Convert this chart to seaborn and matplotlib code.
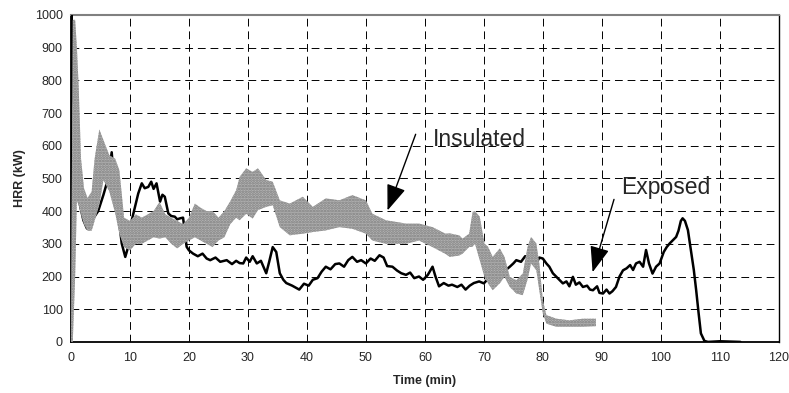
import numpy as np
import pandas as pd
import seaborn as sns
import matplotlib.pyplot as plt

# Exposed test (black line)
exposed_time = [0.0, 0.1, 0.3, 0.8, 1.5, 2.1, 2.7, 3.5, 4.6, 5.5, 6.3, 6.9, 7.2, 8.0, 8.6, 9.2, 9.7,
                10.3, 11.4, 12.0, 12.5, 13.1, 13.6, 14.0, 14.5, 15.1, 15.5, 15.9, 16.5, 17.0, 17.6,
                18.0, 18.5, 19.0, 19.6, 20.0, 20.7, 21.5, 22.3, 23.0, 23.6, 24.5, 25.3, 26.4, 27.3,
                28.0, 28.6, 29.2, 29.7, 30.3, 30.8, 31.5, 32.2, 33.1, 33.6, 34.2, 34.8, 35.4, 36.0,
                36.5, 37.5, 38.2, 38.7, 39.5, 40.3, 41.0, 41.8, 42.5, 43.2, 44.0, 44.8, 45.5, 46.3,
                47.0, 47.7, 48.5, 49.2, 50.0, 50.8, 51.5, 52.3, 53.0, 53.6, 54.5, 55.3, 56.0, 56.8,
                57.5, 58.2, 59.0, 59.7, 60.5, 61.3, 61.8, 62.4, 63.2, 64.0, 64.6, 65.5, 66.2, 66.9,
                67.6, 68.3, 69.2, 70.0, 70.8, 71.5, 72.2, 72.7, 73.4, 74.4, 75.0, 75.5, 76.3, 77.0,
                77.7, 78.3, 78.9, 79.4, 80.0, 80.6, 81.1, 81.7, 82.3, 82.8, 83.4, 84.0, 84.5, 85.1,
                85.6, 86.2, 86.8, 87.5, 88.0, 88.5, 89.2, 89.6, 90.2, 90.8, 91.3, 91.8, 92.4, 93.0,
                93.6, 94.2, 94.8, 95.3, 95.8, 96.4, 97.0, 97.5, 98.0, 98.6, 99.2, 99.8, 100.5, 101.0,
                101.5, 102.0, 102.6, 103.0, 103.4, 103.7, 104.1, 104.6, 105.1, 105.6, 106.0, 106.4,
                106.8, 107.4, 108.0, 110.0, 112.0, 113.5]
exposed_hrr = [0, 1000, 830, 600, 420, 372, 347, 370, 400, 450, 500, 580, 510, 393, 301, 260, 291,
               372, 454, 485, 470, 474, 490, 468, 485, 429, 450, 444, 393, 385, 383,
               375, 378, 380, 291, 280, 270, 262, 270, 255, 250, 258, 245, 250, 238,
               248, 241, 240, 258, 245, 262, 240, 248, 210, 245, 290, 275, 210, 190,
               180, 172, 165, 160, 178, 172, 190, 195, 215, 230, 222, 238, 240, 230,
               250, 260, 245, 250, 240, 255, 248, 265, 258, 232, 230, 218, 210, 205,
               212, 195, 200, 190, 205, 230, 200, 170, 180, 172, 175, 168, 175, 160,
               172, 180, 185, 179, 195, 184, 200, 199, 215, 230, 240, 250, 245, 262,
               260, 245, 240, 258, 255, 240, 230, 210, 199, 190, 179, 185, 170, 199,
               175, 182, 168, 172, 160, 158, 170, 150, 148, 160, 148, 155, 168, 200,
               219, 225, 235, 220, 240, 245, 230, 281, 240, 209, 230, 240, 275, 290,
               301, 310, 321, 340, 370, 378, 370, 342, 281, 220, 158, 90,
               26, 3, 0, 2, 1, 0]

# Insulated test (grey noisy band: lower / upper envelope)
insulated_time = [0.0, 0.3, 0.7, 1.0, 1.3, 1.7, 2.2, 2.8, 3.5, 4.0, 4.8, 5.5, 6.5, 7.5, 8.2, 9.0,
                  10, 11, 12, 13, 14, 15, 16, 17, 18, 19, 20, 21, 22, 23, 24, 25, 26, 27, 28,
                  28.6, 29.7, 30.8, 31.7, 33.1, 34.2, 35.4, 37.1, 39.3, 41.0, 43.2, 45.5, 47.7,
                  50.0, 51.1, 53.4, 56.8, 59.0, 61.3, 63.5, 64.2, 65.8, 66.4, 67.5, 68.1, 68.5,
                  69.3, 70.1, 70.7, 71.5, 72.7, 73.5, 74.4, 75.5, 76.6, 77.4, 78.0, 78.9, 79.4,
                  80.0, 80.6, 82.3, 84.5, 86.8, 89.0]
insulated_low = [0, 0, 200, 430, 420, 390, 360, 340, 340, 370, 420, 495, 460, 393, 331, 290,
                 280, 300, 300, 310, 320, 316, 320, 300, 286, 300, 310, 320, 310, 300, 290, 310, 320, 360, 380,
                 372, 392, 377, 403, 413, 418, 351, 326, 331, 336, 341, 351, 346,
                 331, 310, 300, 300, 310, 290, 269, 260, 264, 270, 290, 291, 300,
                 250, 199, 179, 158, 179, 199, 168, 148, 143, 190, 240, 219, 158,
                 87, 56, 46, 46, 46, 48]
insulated_high = [50, 985, 985, 900, 780, 560, 470, 440, 460, 560, 650, 617, 571, 560, 525, 380,
                  370, 390, 380, 390, 400, 428, 390, 380, 370, 360, 380, 423, 410, 400, 400, 380, 400, 430, 464,
                  505, 531, 520, 531, 495, 490, 433, 423, 444, 413, 439, 433, 449,
                  433, 392, 372, 362, 362, 351, 331, 332, 326, 316, 331, 398, 400,
                  383, 301, 291, 260, 286, 260, 199, 189, 209, 290, 321, 301, 240,
                  128, 82, 71, 66, 71, 71]

x_ticks = list(range(0, 121, 10))
y_ticks = list(range(0, 1001, 100))

sns.set_style('white')
plt.rcParams['font.family'] = ['Liberation Sans', 'DejaVu Sans']
plt.rcParams['hatch.linewidth'] = 1.3

fig = plt.figure(figsize=(7.89, 3.93), dpi=100)
ax = fig.add_axes([0.090, 0.130, 0.897, 0.832])

exposed = pd.DataFrame({'Time': exposed_time, 'HRR': exposed_hrr})
sns.lineplot(data=exposed, x='Time', y='HRR', color='black', linewidth=1.8, ax=ax,
             estimator=None, sort=False, zorder=3)
ax.fill_between(insulated_time, insulated_low, insulated_high, facecolor='#b4b4b4',
                edgecolor='#7e7e7e', hatch='......', linewidth=0, zorder=4)

ax.set_xlim(0, 120)
ax.set_ylim(0, 1000)
ax.set_xticks(x_ticks)
ax.set_yticks(y_ticks)
ax.grid(True, color='black', linestyle=(0, (8, 5)), linewidth=0.7)
ax.set_axisbelow(True)

for s in ['left', 'bottom', 'right']:
    ax.spines[s].set_color('black')
    ax.spines[s].set_linewidth(1.0)
ax.spines['top'].set_color('#808080')
ax.spines['top'].set_linewidth(1.5)
ax.spines['left'].set_linewidth(1.3)
ax.spines['bottom'].set_linewidth(1.3)
ax.tick_params(axis='y', direction='out', length=4, width=1, color='black', labelsize=9, pad=2)
ax.tick_params(axis='x', direction='inout', length=7, width=1, color='black', labelsize=9, pad=4)

ax.set_xlabel('Time (min)', fontsize=9, fontweight='bold', labelpad=8)
ax.set_ylabel('HRR (kW)', fontsize=9, fontweight='bold', labelpad=6)

ax.annotate('', xy=(53.5, 394), xytext=(58.6, 643),
            arrowprops=dict(arrowstyle='-|>,head_length=1.6,head_width=0.6', color='black', lw=1.0),
            zorder=6)
ax.text(61.4, 600, 'Insulated', fontsize=16.5, ha='left', va='baseline', zorder=6)
ax.annotate('', xy=(88.3, 205), xytext=(92.2, 444),
            arrowprops=dict(arrowstyle='-|>,head_length=1.6,head_width=0.6', color='black', lw=1.0),
            zorder=6)
ax.text(93.3, 452, 'Exposed', fontsize=16.5, ha='left', va='baseline', zorder=6)

fig.savefig('out.png', dpi=100)
